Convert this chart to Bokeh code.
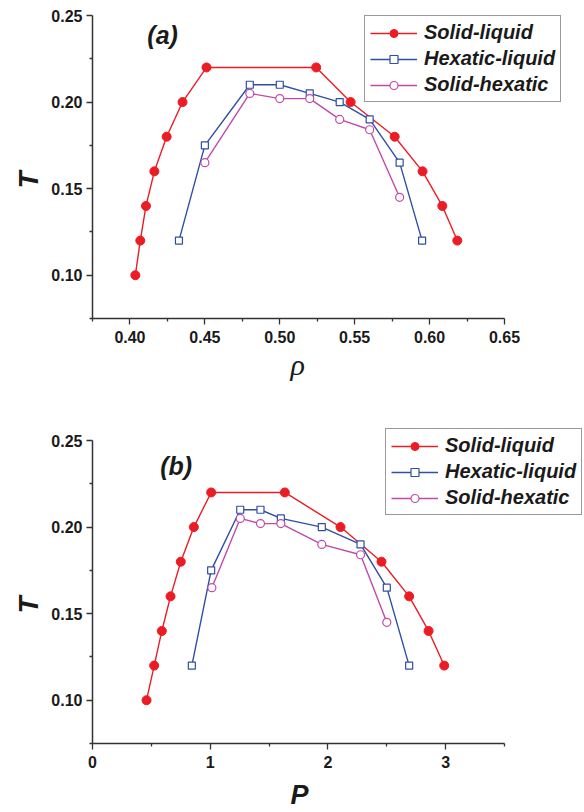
from bokeh.plotting import figure
from bokeh.models import FixedTicker, PrintfTickFormatter, Legend, LegendItem, Label, Range1d, Title
from bokeh.layouts import column
from bokeh.embed import file_html
from bokeh.resources import INLINE

# ---- data: panel (a), T vs density rho ----
T_sl = [0.10, 0.12, 0.14, 0.16, 0.18, 0.20, 0.22, 0.22, 0.20, 0.18, 0.16, 0.14, 0.12]
rho_sl = [0.4036, 0.4069, 0.4107, 0.4163, 0.4245, 0.4351, 0.4511, 0.5243, 0.5473, 0.5767, 0.5953, 0.6085, 0.6185]
T_hl = [0.12, 0.175, 0.21, 0.21, 0.205, 0.20, 0.19, 0.165, 0.12]
rho_hl = [0.4327, 0.45, 0.48, 0.50, 0.52, 0.54, 0.56, 0.58, 0.595]
T_sh = [0.165, 0.205, 0.202, 0.202, 0.19, 0.184, 0.145]
rho_sh = [0.45, 0.48, 0.50, 0.52, 0.54, 0.56, 0.58]

# ---- data: panel (b), T vs pressure P ----
P_sl = [0.459, 0.524, 0.589, 0.663, 0.750, 0.861, 1.008, 1.634, 2.107, 2.455, 2.690, 2.855, 2.988]
P_hl = [0.844, 1.008, 1.255, 1.427, 1.600, 1.948, 2.277, 2.500, 2.690]
P_sh = [1.014, 1.255, 1.427, 1.600, 1.948, 2.277, 2.500]

series_names = ["Solid-liquid", "Hexatic-liquid", "Solid-hexatic"]
y_bounds = (0.075, 0.25)
y_major = [0.10, 0.15, 0.20, 0.25]
y_minor = [0.075, 0.125, 0.175, 0.225]
xa_bounds = (0.375, 0.65)
xa_major = [0.40, 0.45, 0.50, 0.55, 0.60, 0.65]
xa_minor = [0.375, 0.425, 0.475, 0.525, 0.575, 0.625]
xb_bounds = (0.0, 3.5)
xb_major = [0, 1, 2, 3]
xb_minor = [0.5, 1.5, 2.5, 3.5]

RED = "#ec1c24"
BLUE = "#2e4fa3"
MAG = "#c04aa8"
AX = "#333333"
TXT = "#1a1a1a"

AXIS_W = 412.0   # px length of drawn x axis
AXIS_H = 303.0   # px length of drawn y axis
FRAME_W = 492


def panel(xs, xbounds, xmaj, xmin, xfmt, xlabel, xlabel_font, xlabel_style, xlabel_size,
          xlabel_standoff, tag, tag_pos, legend_loc, extra_top, border_bottom):
    xspan = xbounds[1] - xbounds[0]
    yspan = y_bounds[1] - y_bounds[0]
    x_end = xbounds[0] + FRAME_W * xspan / AXIS_W
    y_end = y_bounds[1] + extra_top * yspan / AXIS_H
    p = figure(frame_width=FRAME_W, frame_height=int(AXIS_H + extra_top),
               min_border_left=92, min_border_right=0,
               min_border_top=0, min_border_bottom=border_bottom,
               x_range=Range1d(xbounds[0], x_end), y_range=Range1d(y_bounds[0], y_end),
               output_backend="svg", toolbar_location=None,
               background_fill_color="white", border_fill_color="white")
    p.outline_line_color = None
    p.xgrid.visible = False
    p.ygrid.visible = False

    for ax in (p.xaxis[0], p.yaxis[0]):
        ax.axis_line_color = AX
        ax.axis_line_width = 1.5
        ax.major_tick_line_color = AX
        ax.minor_tick_line_color = AX
        ax.major_tick_line_width = 1.3
        ax.minor_tick_line_width = 1.3
        ax.major_tick_out = 6
        ax.major_tick_in = 0
        ax.minor_tick_out = 3
        ax.minor_tick_in = 0
        ax.major_label_text_font = "Liberation Sans"
        ax.major_label_text_font_style = "bold"
        ax.major_label_text_font_size = "16px"
        ax.major_label_text_color = TXT

    p.yaxis[0].bounds = y_bounds
    p.yaxis[0].ticker = FixedTicker(ticks=y_major, minor_ticks=y_minor)
    p.yaxis[0].formatter = PrintfTickFormatter(format="%.2f")
    p.yaxis[0].major_label_standoff = 4

    p.xaxis[0].bounds = xbounds
    p.xaxis[0].ticker = FixedTicker(ticks=xmaj, minor_ticks=xmin)
    p.xaxis[0].formatter = PrintfTickFormatter(format=xfmt)
    p.xaxis[0].major_label_standoff = 6

    # axis titles, placed along the drawn (bounded) axes
    p.add_layout(Title(text="T", align="left", offset=130, standoff=9,
                       text_font="Liberation Sans", text_font_style="bold italic",
                       text_font_size="28px", text_color=TXT), "left")
    p.add_layout(Title(text=xlabel, align="left", offset=198, standoff=xlabel_standoff,
                       text_font=xlabel_font, text_font_style=xlabel_style,
                       text_font_size=xlabel_size, text_color=TXT), "below")

    xsl, xhl, xsh = xs
    l1 = p.line(xsl, T_sl, line_color=RED, line_width=1.4)
    m1 = p.scatter(xsl, T_sl, marker="circle", size=9, fill_color=RED, line_color=RED)
    l2 = p.line(xhl, T_hl, line_color=BLUE, line_width=1.4)
    m2 = p.scatter(xhl, T_hl, marker="square", size=7, fill_color="white", line_color=BLUE, line_width=1.2)
    l3 = p.line(xsh, T_sh, line_color=MAG, line_width=1.4)
    m3 = p.scatter(xsh, T_sh, marker="circle", size=8, fill_color="white", line_color=MAG, line_width=1.2)

    legend = Legend(items=[
        LegendItem(label=series_names[0], renderers=[l1, m1]),
        LegendItem(label=series_names[1], renderers=[l2, m2]),
        LegendItem(label=series_names[2], renderers=[l3, m3]),
    ], location=legend_loc)
    legend.label_text_font = "Liberation Sans"
    legend.label_text_font_style = "bold italic"
    legend.label_text_font_size = "20px"
    legend.label_text_color = TXT
    legend.glyph_width = 47
    legend.glyph_height = 20
    legend.label_height = 20
    legend.label_standoff = 7
    legend.spacing = 3
    legend.padding = 5
    legend.margin = 0
    legend.border_line_color = AX
    legend.border_line_width = 1.5
    legend.background_fill_color = "white"
    legend.background_fill_alpha = 1.0
    p.add_layout(legend)

    p.add_layout(Label(x=tag_pos[0], y=tag_pos[1], text=tag,
                       text_font="Liberation Sans", text_font_style="bold italic",
                       text_font_size="25px", text_color=TXT,
                       text_align="center", text_baseline="middle"))
    return p


pa = panel((rho_sl, rho_hl, rho_sh), xa_bounds, xa_major, xa_minor, "%.2f",
           "ρ", "Liberation Serif", "italic", "30px", 0,
           "(a)", (0.4218, 0.2386), (272, 216), 15, 82)
pb = panel((P_sl, P_hl, P_sh), xb_bounds, xb_major, xb_minor, "%.0f",
           "P", "Liberation Sans", "bold italic", "27px", 14,
           "(b)", (0.711, 0.2353), (293, 228), 40, 69)

layout = column(pa, pb, spacing=0)
open("out.html", "w").write(file_html(layout, INLINE))
